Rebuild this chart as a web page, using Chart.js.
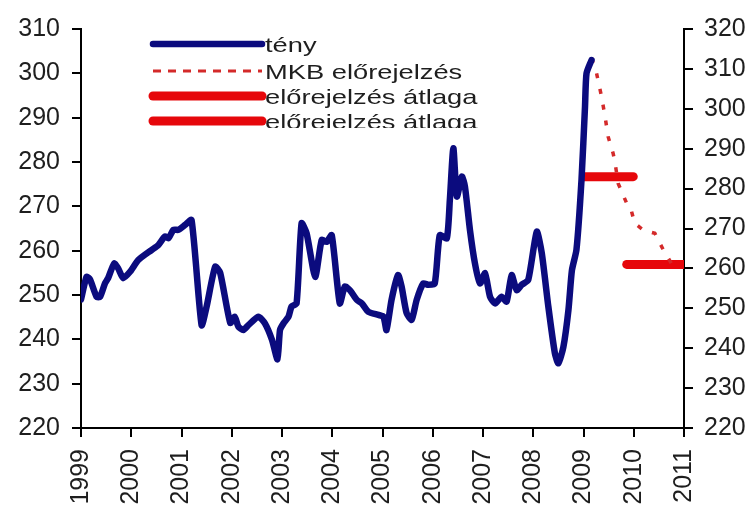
<!DOCTYPE html>
<html>
<head>
<meta charset="utf-8">
<script src="https://cdn.jsdelivr.net/npm/chart.js@4.4.0/dist/chart.umd.min.js"></script>
<style>
  html, body { margin: 0; padding: 0; background: #fff; }
  #wrap { width: 753px; height: 510px; }
</style>
</head>
<body>
<div id="wrap"><canvas id="chart" width="753" height="510"></canvas></div>
<script>
'use strict';

// tick labels
const yearTicks = [1999, 2000, 2001, 2002, 2003, 2004, 2005, 2006, 2007, 2008, 2009, 2010, 2011];

// tény (left axis)
const tenyDates = [
  1999.00, 1999.11, 1999.18, 1999.31, 1999.38, 1999.48, 1999.54, 1999.66, 1999.74, 1999.84,
  1999.98, 2000.14, 2000.41, 2000.54, 2000.67, 2000.74, 2000.84, 2000.94, 2001.07, 2001.20,
  2001.40, 2001.50, 2001.67, 2001.77, 2001.97, 2002.06, 2002.13, 2002.23, 2002.33, 2002.53,
  2002.66, 2002.80, 2002.91, 2002.96, 2003.03, 2003.13, 2003.19, 2003.29, 2003.39, 2003.49,
  2003.66, 2003.79, 2003.89, 2003.99, 2004.15, 2004.25, 2004.35, 2004.49, 2004.59, 2004.72,
  2004.92, 2005.02, 2005.08, 2005.18, 2005.31, 2005.38, 2005.48, 2005.58, 2005.68, 2005.81,
  2005.91, 2006.04, 2006.14, 2006.28, 2006.34, 2006.41, 2006.48, 2006.58, 2006.64, 2006.74,
  2006.84, 2006.94, 2007.04, 2007.14, 2007.24, 2007.37, 2007.47, 2007.57, 2007.67, 2007.77,
  2007.90, 2008.07, 2008.17, 2008.30, 2008.43, 2008.50, 2008.60, 2008.70, 2008.77, 2008.86,
  2008.96, 2009.03, 2009.06, 2009.16
];
const tenyValues = [
  249.0, 254.1, 253.5, 249.6, 249.6, 252.7, 253.8, 257.1, 256.0, 253.8,
  255.3, 257.9, 260.2, 261.3, 263.2, 262.8, 264.7, 264.7, 265.8, 266.9,
  243.2, 247.4, 256.4, 255.0, 243.7, 245.1, 242.9, 242.1, 243.2, 245.1,
  243.6, 239.9, 235.5, 242.1, 243.6, 245.1, 247.4, 248.1, 266.2, 263.9,
  254.1, 262.4, 262.0, 263.5, 248.1, 251.9, 251.1, 248.9, 248.1, 246.2,
  245.5, 245.1, 242.1, 248.9, 254.5, 251.9, 245.9, 244.4, 248.9, 252.6,
  252.3, 252.6, 263.5, 262.8, 271.4, 283.1, 272.2, 276.7, 274.5, 264.7,
  257.1, 252.6, 254.9, 249.6, 248.1, 249.6, 248.5, 254.5, 251.1, 252.3,
  253.4, 264.3, 259.4, 247.4, 236.9, 234.6, 238.3, 246.6, 255.6, 260.2,
  275.9, 292.5, 300.0, 303.0
];

// MKB előrejelzés (right axis)
const forecastDates = [
  2009.16, 2009.26, 2009.36, 2009.43, 2009.49, 2009.59, 2009.63, 2009.69,
  2009.86, 2009.93, 2010.02, 2010.19, 2010.42, 2010.59, 2010.79
];
const forecastValues = [
  312.7, 308.9, 303.0, 298.0, 293.0, 288.8, 286.3, 281.3,
  276.3, 275.5, 271.3, 269.6, 268.8, 264.6, 260.4
];

// előrejelzés átlaga (right axis)
const avgStarts = [2009.00, 2009.86];
const avgEnds = [2009.99, 2011.00];
const avgValues = [283.0, 261.0];

const legendLabels = ['tény', 'MKB előrejelzés', 'előrejelzés átlaga', 'előrejelzés átlaga'];

const blue = '#0b0b7e';
const red = '#e6070b';
const dotRed = '#d42a2a';
const textColor = '#1e1e1e';

Chart.defaults.font.family = '"Liberation Sans", Arial, sans-serif';
Chart.defaults.color = textColor;

function toPoints(xs, ys) {
  return xs.map((x, i) => ({ x: x, y: ys[i] }));
}

const avgDatasets = avgValues.map((v, i) => ({
  label: legendLabels[2 + i],
  data: [{ x: avgStarts[i], y: v }, { x: avgEnds[i], y: v }],
  yAxisID: 'y1',
  borderColor: red,
  borderWidth: 9,
  borderCapStyle: 'round',
  pointRadius: 0
}));

// legend sits inside the plot, last row is cut off like in the original
const legendInside = {
  id: 'legendInside',
  afterDatasetsDraw(chart) {
    const ctx = chart.ctx;
    const rows = [44, 71, 96, 121];
    const x0 = 153, x1 = 262;
    ctx.save();
    ctx.fillStyle = '#fff';
    ctx.fillRect(148, 30, 345, 98);
    ctx.beginPath();
    ctx.rect(140, 28, 360, 100);
    ctx.clip();
    rows.forEach((y, i) => {
      ctx.save();
      ctx.beginPath();
      ctx.moveTo(x0, y);
      ctx.lineTo(x1, y);
      if (i === 0) {
        ctx.strokeStyle = blue; ctx.lineWidth = 6.5; ctx.lineCap = 'round';
      } else if (i === 1) {
        ctx.strokeStyle = dotRed; ctx.lineWidth = 3; ctx.setLineDash([8, 7]);
      } else {
        ctx.strokeStyle = red; ctx.lineWidth = 9; ctx.lineCap = 'round';
      }
      ctx.stroke();
      ctx.restore();
      ctx.save();
      ctx.translate(265, y + 8);
      ctx.scale(1.3, 1);
      ctx.font = '21px "Liberation Sans", Arial, sans-serif';
      ctx.fillStyle = textColor;
      ctx.textBaseline = 'alphabetic';
      ctx.fillText(legendLabels[i], 0, 0);
      ctx.restore();
    });
    ctx.restore();
  }
};

const tickFont = { size: 25 };

const config = {
  type: 'line',
  data: {
    datasets: [
      {
        label: legendLabels[0],
        data: toPoints(tenyDates, tenyValues),
        yAxisID: 'y',
        borderColor: blue,
        borderWidth: 6.5,
        borderJoinStyle: 'round',
        borderCapStyle: 'round',
        tension: 0.2,
        pointRadius: 0
      },
      {
        label: legendLabels[1],
        data: toPoints(forecastDates, forecastValues),
        yAxisID: 'y1',
        borderColor: dotRed,
        borderWidth: 3.5,
        borderDash: [5, 11],
        tension: 0,
        pointRadius: 0
      }
    ].concat(avgDatasets)
  },
  options: {
    responsive: false,
    animation: false,
    events: [],
    layout: { padding: { top: 29, left: 0, right: 0, bottom: 0 } },
    plugins: {
      legend: { display: false },
      tooltip: { enabled: false }
    },
    scales: {
      x: {
        type: 'linear',
        min: 1999,
        max: 2011,
        afterBuildTicks: (scale) => { scale.ticks = yearTicks.map(v => ({ value: v })); },
        afterFit: (scale) => { scale.height = 82; },
        ticks: {
          callback: (v) => String(v),
          minRotation: 90,
          maxRotation: 90,
          padding: 12,
          font: tickFont,
          color: textColor
        },
        grid: { drawOnChartArea: false, drawTicks: true, tickLength: 9, color: '#000', lineWidth: 2 },
        border: { color: '#000', width: 2 }
      },
      y: {
        position: 'left',
        min: 220,
        max: 310,
        afterFit: (scale) => { scale.width = 81; },
        ticks: { stepSize: 10, padding: 12, font: tickFont, color: textColor },
        grid: { drawOnChartArea: false, drawTicks: true, tickLength: 9, color: '#000', lineWidth: 2 },
        border: { color: '#000', width: 2 }
      },
      y1: {
        position: 'right',
        min: 220,
        max: 320,
        afterFit: (scale) => { scale.width = 69; },
        ticks: { stepSize: 10, padding: 11, font: tickFont, color: textColor },
        grid: { drawOnChartArea: false, drawTicks: true, tickLength: 9, color: '#000', lineWidth: 2 },
        border: { color: '#000', width: 2 }
      }
    }
  },
  plugins: [legendInside]
};

new Chart(document.getElementById('chart'), config);
</script>
</body>
</html>
